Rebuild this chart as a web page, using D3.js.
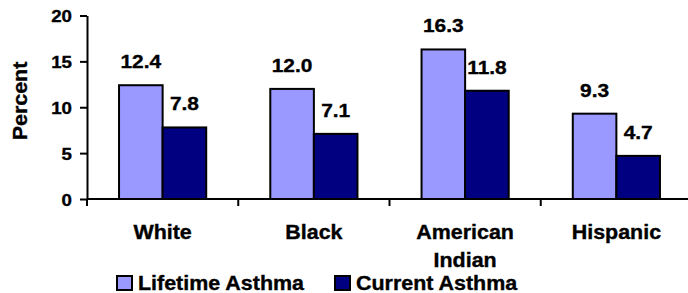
<!DOCTYPE html>
<html>
<head>
<meta charset="utf-8">
<script src="https://cdn.jsdelivr.net/npm/d3@7"></script>
<style>
  body { margin: 0; background: #fff; }
  text { font-family: "Liberation Sans", Arial, sans-serif; font-weight: bold; fill: #000;
         stroke: #000; stroke-width: 0.35px; }
</style>
</head>
<body>
<div id="chart"></div>
<script>
// data
const categories = ["White", "Black", "American Indian", "Hispanic"];
const seriesNames = ["Lifetime Asthma", "Current Asthma"];
const lifetime = [12.4, 12.0, 16.3, 9.3];
const current = [7.8, 7.1, 11.8, 4.7];
const yTicks = [0, 5, 10, 15, 20];

const colors = ["#9999FF", "#000080"];
const sx = 1.1; // text looks a bit stretched wide

const W = 688, H = 293;
const svg = d3.select("#chart").append("svg")
    .attr("width", W).attr("height", H);

const x = d3.scaleBand().domain(categories).range([87, 692]).padding(0);
const xs = d3.scaleBand().domain(seriesNames).range([0, x.bandwidth()])
    .paddingInner(0).paddingOuter(0.735);
const y = d3.scaleLinear().domain([0, 20]).range([199, 15.5]);

function stretchText(sel, fx, fy) {
    sel.attr("transform", (d, i) => "translate(" + fx(d, i) + "," + fy(d, i) + ") scale(" + sx + ",1)");
}

// bars
const rows = categories.map((c, i) => ({ cat: c, vals: [lifetime[i], current[i]] }));
const groups = svg.selectAll("g.grp").data(rows).enter().append("g")
    .attr("class", "grp")
    .attr("transform", d => "translate(" + x(d.cat) + ",0)");

groups.selectAll("rect")
    .data(d => d.vals.map((v, j) => ({ s: seriesNames[j], v: v, j: j })))
    .enter().append("rect")
    .attr("x", d => xs(d.s))
    .attr("y", d => y(d.v))
    .attr("width", xs.bandwidth())
    .attr("height", d => y(0) - y(d.v))
    .attr("fill", d => colors[d.j])
    .attr("stroke", "#000")
    .attr("stroke-width", 2);

groups.selectAll("text.val")
    .data(d => d.vals.map((v, j) => ({ s: seriesNames[j], v: v, j: j })))
    .enter().append("text")
    .attr("class", "val")
    .attr("text-anchor", "middle")
    .style("font-size", "19px")
    .text(d => d.v.toFixed(1))
    .call(stretchText, d => xs(d.s) + xs.bandwidth() / 2, d => y(d.v) - 17);

// y axis
const yAxis = svg.append("g")
    .attr("transform", "translate(87,0)")
    .call(d3.axisLeft(y).tickValues(yTicks).tickSize(7).tickSizeOuter(0).tickFormat(d3.format("d")));
yAxis.select(".domain").attr("stroke", "#000").attr("stroke-width", 2);
yAxis.selectAll(".tick line").attr("stroke", "#000").attr("stroke-width", 2);
yAxis.selectAll(".tick text").remove();
yAxis.selectAll(".tick").append("text")
    .attr("text-anchor", "end")
    .style("font-size", "17px")
    .text(d => d)
    .call(stretchText, () => -15, () => 6);

// x axis, ticks at the band edges
const xAxis = svg.append("g")
    .attr("transform", "translate(0," + y(0) + ")");
xAxis.append("line")
    .attr("x1", 87).attr("x2", 692)
    .attr("stroke", "#000").attr("stroke-width", 2);
xAxis.selectAll("line.tk").data(categories).enter().append("line")
    .attr("class", "tk")
    .attr("x1", d => x(d)).attr("x2", d => x(d))
    .attr("y1", 0).attr("y2", 7)
    .attr("stroke", "#000").attr("stroke-width", 2);

const catLabels = xAxis.selectAll("text.cat").data(categories).enter().append("text")
    .attr("class", "cat")
    .attr("text-anchor", "middle")
    .style("font-size", "19.5px")
    .call(stretchText, d => x(d) + x.bandwidth() / 2, () => 40);
catLabels.each(function (d) {
    const words = d.split(" ");
    d3.select(this).selectAll("tspan").data(words).enter().append("tspan")
        .attr("x", 0)
        .attr("dy", (w, i) => i === 0 ? 0 : 28)
        .text(w => w);
});

// y title
svg.append("text")
    .attr("text-anchor", "middle")
    .style("font-size", "19.5px")
    .attr("transform", "translate(27,101) rotate(-90) scale(" + sx + ",1)")
    .text("Percent");

// legend
const legendX = [117, 335];
const legend = svg.selectAll("g.leg").data(seriesNames).enter().append("g")
    .attr("class", "leg")
    .attr("transform", (d, i) => "translate(" + legendX[i] + ",276)");
legend.append("rect")
    .attr("width", 15).attr("height", 14)
    .attr("fill", (d, i) => colors[i])
    .attr("stroke", "#000").attr("stroke-width", 2);
legend.append("text")
    .style("font-size", "19.5px")
    .text(d => d)
    .call(stretchText, () => 21, () => 14);
</script>
</body>
</html>
